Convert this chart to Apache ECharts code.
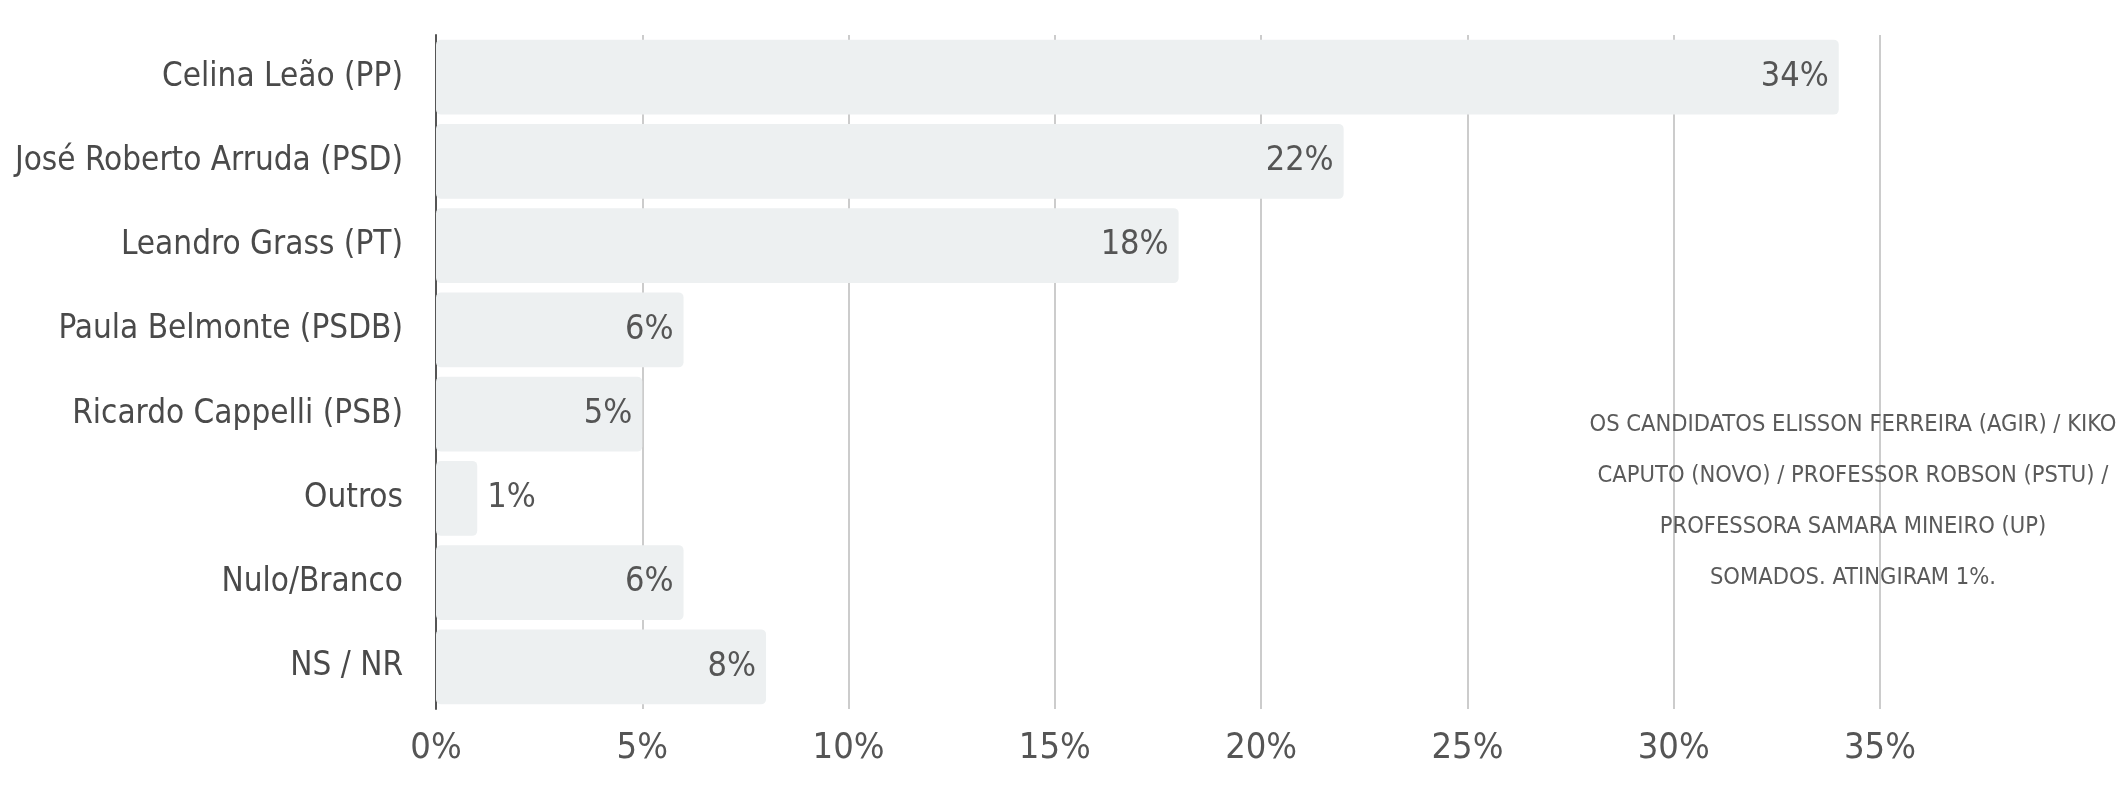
<!DOCTYPE html>
<html>
<head>
<meta charset="utf-8">
<script src="https://cdn.jsdelivr.net/npm/echarts@6/dist/echarts.min.js"></script>
<style>
  html, body { margin: 0; padding: 0; background: #fff; }
  #chart { width: 2128px; height: 800px; }
</style>
</head>
<body>
<div id="chart"></div>
<script>
// 数据
const candidatos = [
    'Celina Leão (PP)',
    'José Roberto Arruda (PSD)',
    'Leandro Grass (PT)',
    'Paula Belmonte (PSDB)',
    'Ricardo Cappelli (PSB)',
    'Outros',
    'Nulo/Branco',
    'NS / NR'
];
const percentuais = [34, 22, 18, 6, 5, 1, 6, 8];
const xTicks = [0, 5, 10, 15, 20, 25, 30, 35];
const notaLinhas = [
    'OS CANDIDATOS ELISSON FERREIRA (AGIR) / KIKO',
    'CAPUTO (NOVO) / PROFESSOR ROBSON (PSTU) /',
    'PROFESSORA SAMARA MINEIRO (UP)',
    'SOMADOS. ATINGIRAM 1%.'
];

const fonte = '"Liberation Sans Narrow", "DejaVu Sans Condensed", sans-serif';

const chart = echarts.init(document.getElementById('chart'));

const option = {
    animation: false,
    grid: {
        left: 436,
        right: 248,
        top: 35,
        bottom: 91,
        containLabel: false,
        outerBoundsMode: 'none'
    },
    xAxis: {
        type: 'value',
        min: xTicks[0],
        max: xTicks[xTicks.length - 1],
        interval: 5,
        axisLine: { show: false },
        axisTick: { show: false },
        splitLine: {
            show: true,
            lineStyle: { color: '#cccccc', width: 2 }
        },
        axisLabel: {
            formatter: '{value}%',
            fontFamily: fonte,
            fontSize: 36,
            color: '#555',
            margin: 22
        }
    },
    yAxis: {
        type: 'category',
        inverse: true,
        data: candidatos,
        axisLine: {
            show: true,
            lineStyle: { color: '#555', width: 2 }
        },
        axisTick: { show: false },
        axisLabel: {
            fontFamily: fonte,
            fontSize: 33,
            color: '#4a4a4a',
            margin: 33
        }
    },
    series: [
        {
            type: 'bar',
            barCategoryGap: '11%',
            data: percentuais.map(v => ({
                value: v,
                label: { position: v < 3 ? 'right' : 'insideRight' }
            })),
            itemStyle: {
                color: '#edf0f1',
                borderRadius: 5
            },
            label: {
                show: true,
                formatter: '{c}%',
                fontFamily: fonte,
                fontSize: 34,
                color: '#555',
                distance: 10
            }
        }
    ],
    graphic: [
        {
            type: 'text',
            style: {
                text: notaLinhas.join('\n'),
                x: 1853,
                y: 501,
                align: 'center',
                verticalAlign: 'middle',
                lineHeight: 51,
                fontFamily: fonte,
                fontSize: 23.5,
                fill: '#5a5a5a'
            },
            z: 100
        }
    ]
};

chart.setOption(option);
</script>
</body>
</html>
